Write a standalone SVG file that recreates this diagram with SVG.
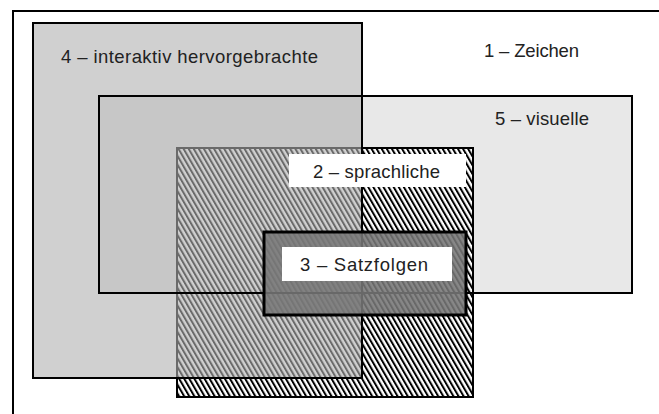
<svg xmlns="http://www.w3.org/2000/svg" width="659" height="414" viewBox="0 0 659 414">
  <defs>
    <pattern id="hatch" patternUnits="userSpaceOnUse" width="4.4" height="10" patternTransform="rotate(-30)">
      <rect x="0" y="0" width="4.4" height="10" fill="#ffffff"/>
      <rect x="0" y="0" width="2" height="10" fill="#000000"/>
    </pattern>
  </defs>
  <style>
    .lbl { font-family: "Liberation Sans", Arial, sans-serif; font-size: 18.5px; fill: #222222; }
    .edge { fill: none; stroke: #000000; stroke-width: 2; }
  </style>
  <rect x="0" y="0" width="659" height="414" fill="#ffffff"/>

  <g id="n1-zeichen">
    <rect x="13" y="11" width="660" height="420" fill="#ffffff" stroke="#000000" stroke-width="2"/>
    <text class="lbl" x="484" y="57" textLength="95">1 – Zeichen</text>
  </g>

  <g id="n5-visuelle-fill">
    <rect x="99" y="96" width="533" height="197" fill="#e8e8e8"/>
  </g>

  <g id="n2-sprachliche">
    <rect x="177" y="148" width="296" height="249" fill="url(#hatch)" stroke="#000000" stroke-width="2"/>
  </g>

  <g id="n4-interaktiv">
    <rect x="33" y="23" width="329" height="355" fill="#b0b0b0" fill-opacity="0.6" stroke="#000000" stroke-width="2"/>
    <text class="lbl" x="61" y="63" textLength="257">4 – interaktiv hervorgebrachte</text>
  </g>

  <g id="n5-visuelle">
    <rect x="99" y="96" width="533" height="197" class="edge"/>
    <text class="lbl" x="495" y="125" textLength="94">5 – visuelle</text>
  </g>

  <g id="n3-satzfolgen">
    <rect x="264" y="232" width="202" height="83" fill="#767676" fill-opacity="0.88" stroke="#000000" stroke-width="3"/>
  </g>

  <g id="label2">
    <rect x="289" y="154" width="177" height="33" fill="#ffffff"/>
    <text class="lbl" x="313" y="178" textLength="127">2 – sprachliche</text>
  </g>

  <g id="label3">
    <rect x="282" y="247" width="170" height="34" fill="#ffffff"/>
    <text class="lbl" x="300" y="271" textLength="128">3 – Satzfolgen</text>
  </g>

  <g id="connectors"></g>
</svg>
